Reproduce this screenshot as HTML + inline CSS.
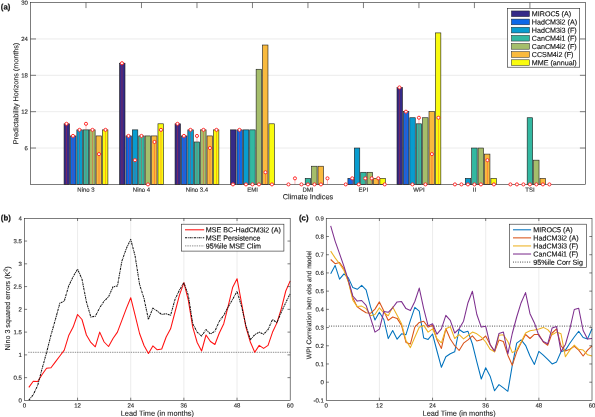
<!DOCTYPE html>
<html lang="en"><head><meta charset="utf-8"><title>Figure</title>
<style>html,body{margin:0;padding:0;background:#fff}svg{display:block}</style>
</head><body>
<svg width="595" height="417" viewBox="0 0 595 417" font-family='"Liberation Sans", Arial, sans-serif' text-rendering="geometricPrecision">
<rect width="595" height="417" fill="#fff"/>
<line x1="30.5" x2="585.4" y1="148.04" y2="148.04" stroke="#dfdfdf" stroke-width="0.6"/>
<line x1="30.5" x2="585.4" y1="111.68" y2="111.68" stroke="#dfdfdf" stroke-width="0.6"/>
<line x1="30.5" x2="585.4" y1="75.32" y2="75.32" stroke="#dfdfdf" stroke-width="0.6"/>
<line x1="30.5" x2="585.4" y1="38.96" y2="38.96" stroke="#dfdfdf" stroke-width="0.6"/>
<rect x="64.06" y="123.8" width="5.45" height="60.6" fill="#352a87" stroke="#1a1a1a" stroke-width="0.6"/>
<rect x="70.47" y="135.92" width="5.45" height="48.48" fill="#0c68e8" stroke="#1a1a1a" stroke-width="0.6"/>
<rect x="76.86" y="129.86" width="5.45" height="54.54" fill="#089ccf" stroke="#1a1a1a" stroke-width="0.6"/>
<rect x="83.27" y="129.86" width="5.45" height="54.54" fill="#33b8a1" stroke="#1a1a1a" stroke-width="0.6"/>
<rect x="89.67" y="129.86" width="5.45" height="54.54" fill="#a5be6b" stroke="#1a1a1a" stroke-width="0.6"/>
<rect x="96.06" y="135.92" width="5.45" height="48.48" fill="#f9ba3e" stroke="#1a1a1a" stroke-width="0.6"/>
<rect x="102.47" y="129.86" width="5.45" height="54.54" fill="#f9fb0e" stroke="#1a1a1a" stroke-width="0.6"/>
<rect x="119.55" y="63.2" width="5.45" height="121.2" fill="#352a87" stroke="#1a1a1a" stroke-width="0.6"/>
<rect x="125.95" y="135.92" width="5.45" height="48.48" fill="#0c68e8" stroke="#1a1a1a" stroke-width="0.6"/>
<rect x="132.35" y="129.86" width="5.45" height="54.54" fill="#089ccf" stroke="#1a1a1a" stroke-width="0.6"/>
<rect x="138.75" y="135.92" width="5.45" height="48.48" fill="#33b8a1" stroke="#1a1a1a" stroke-width="0.6"/>
<rect x="145.16" y="135.92" width="5.45" height="48.48" fill="#a5be6b" stroke="#1a1a1a" stroke-width="0.6"/>
<rect x="151.56" y="135.92" width="5.45" height="48.48" fill="#f9ba3e" stroke="#1a1a1a" stroke-width="0.6"/>
<rect x="157.96" y="123.8" width="5.45" height="60.6" fill="#f9fb0e" stroke="#1a1a1a" stroke-width="0.6"/>
<rect x="175.04" y="123.8" width="5.45" height="60.6" fill="#352a87" stroke="#1a1a1a" stroke-width="0.6"/>
<rect x="181.44" y="135.92" width="5.45" height="48.48" fill="#0c68e8" stroke="#1a1a1a" stroke-width="0.6"/>
<rect x="187.84" y="129.86" width="5.45" height="54.54" fill="#089ccf" stroke="#1a1a1a" stroke-width="0.6"/>
<rect x="194.24" y="141.98" width="5.45" height="42.42" fill="#33b8a1" stroke="#1a1a1a" stroke-width="0.6"/>
<rect x="200.64" y="129.86" width="5.45" height="54.54" fill="#a5be6b" stroke="#1a1a1a" stroke-width="0.6"/>
<rect x="207.04" y="135.92" width="5.45" height="48.48" fill="#f9ba3e" stroke="#1a1a1a" stroke-width="0.6"/>
<rect x="213.44" y="129.86" width="5.45" height="54.54" fill="#f9fb0e" stroke="#1a1a1a" stroke-width="0.6"/>
<rect x="230.53" y="129.86" width="5.45" height="54.54" fill="#352a87" stroke="#1a1a1a" stroke-width="0.6"/>
<rect x="236.93" y="129.86" width="5.45" height="54.54" fill="#0c68e8" stroke="#1a1a1a" stroke-width="0.6"/>
<rect x="243.33" y="129.86" width="5.45" height="54.54" fill="#089ccf" stroke="#1a1a1a" stroke-width="0.6"/>
<rect x="249.73" y="129.86" width="5.45" height="54.54" fill="#33b8a1" stroke="#1a1a1a" stroke-width="0.6"/>
<rect x="256.13" y="69.26" width="5.45" height="115.14" fill="#a5be6b" stroke="#1a1a1a" stroke-width="0.6"/>
<rect x="262.53" y="45.02" width="5.45" height="139.38" fill="#f9ba3e" stroke="#1a1a1a" stroke-width="0.6"/>
<rect x="268.93" y="123.8" width="5.45" height="60.6" fill="#f9fb0e" stroke="#1a1a1a" stroke-width="0.6"/>
<rect x="305.22" y="178.34" width="5.45" height="6.06" fill="#33b8a1" stroke="#1a1a1a" stroke-width="0.6"/>
<rect x="311.62" y="166.22" width="5.45" height="18.18" fill="#a5be6b" stroke="#1a1a1a" stroke-width="0.6"/>
<rect x="318.02" y="166.22" width="5.45" height="18.18" fill="#f9ba3e" stroke="#1a1a1a" stroke-width="0.6"/>
<rect x="347.91" y="178.34" width="5.45" height="6.06" fill="#0c68e8" stroke="#1a1a1a" stroke-width="0.6"/>
<rect x="354.31" y="148.04" width="5.45" height="36.36" fill="#089ccf" stroke="#1a1a1a" stroke-width="0.6"/>
<rect x="360.71" y="172.28" width="5.45" height="12.12" fill="#33b8a1" stroke="#1a1a1a" stroke-width="0.6"/>
<rect x="367.11" y="172.28" width="5.45" height="12.12" fill="#a5be6b" stroke="#1a1a1a" stroke-width="0.6"/>
<rect x="373.51" y="178.34" width="5.45" height="6.06" fill="#f9ba3e" stroke="#1a1a1a" stroke-width="0.6"/>
<rect x="379.91" y="178.34" width="5.45" height="6.06" fill="#f9fb0e" stroke="#1a1a1a" stroke-width="0.6"/>
<rect x="397" y="87.44" width="5.45" height="96.96" fill="#352a87" stroke="#1a1a1a" stroke-width="0.6"/>
<rect x="403.4" y="111.68" width="5.45" height="72.72" fill="#0c68e8" stroke="#1a1a1a" stroke-width="0.6"/>
<rect x="409.8" y="117.74" width="5.45" height="66.66" fill="#089ccf" stroke="#1a1a1a" stroke-width="0.6"/>
<rect x="416.2" y="123.8" width="5.45" height="60.6" fill="#33b8a1" stroke="#1a1a1a" stroke-width="0.6"/>
<rect x="422.6" y="117.74" width="5.45" height="66.66" fill="#a5be6b" stroke="#1a1a1a" stroke-width="0.6"/>
<rect x="429" y="111.68" width="5.45" height="72.72" fill="#f9ba3e" stroke="#1a1a1a" stroke-width="0.6"/>
<rect x="435.4" y="32.9" width="5.45" height="151.5" fill="#f9fb0e" stroke="#1a1a1a" stroke-width="0.6"/>
<rect x="465.29" y="178.34" width="5.45" height="6.06" fill="#089ccf" stroke="#1a1a1a" stroke-width="0.6"/>
<rect x="471.69" y="148.04" width="5.45" height="36.36" fill="#33b8a1" stroke="#1a1a1a" stroke-width="0.6"/>
<rect x="478.09" y="148.04" width="5.45" height="36.36" fill="#a5be6b" stroke="#1a1a1a" stroke-width="0.6"/>
<rect x="484.49" y="154.1" width="5.45" height="30.3" fill="#f9ba3e" stroke="#1a1a1a" stroke-width="0.6"/>
<rect x="490.89" y="178.34" width="5.45" height="6.06" fill="#f9fb0e" stroke="#1a1a1a" stroke-width="0.6"/>
<rect x="527.18" y="117.74" width="5.45" height="66.66" fill="#33b8a1" stroke="#1a1a1a" stroke-width="0.6"/>
<rect x="533.58" y="160.16" width="5.45" height="24.24" fill="#a5be6b" stroke="#1a1a1a" stroke-width="0.6"/>
<rect x="539.98" y="178.34" width="5.45" height="6.06" fill="#f9ba3e" stroke="#1a1a1a" stroke-width="0.6"/>
<rect x="30.5" y="2.6" width="554.9" height="181.8" fill="none" stroke="#262626" stroke-width="0.6"/>
<line x1="66.49" x2="66.49" y1="184.4" y2="123.8" stroke="#ff2020" stroke-width="0.32"/>
<circle cx="66.49" cy="123.8" r="1.55" fill="#fff" stroke="#ff2020" stroke-width="0.95"/>
<line x1="72.99" x2="72.99" y1="184.4" y2="135.92" stroke="#ff2020" stroke-width="0.32"/>
<circle cx="72.99" cy="135.92" r="1.55" fill="#fff" stroke="#ff2020" stroke-width="0.95"/>
<line x1="79.49" x2="79.49" y1="184.4" y2="129.86" stroke="#ff2020" stroke-width="0.32"/>
<circle cx="79.49" cy="129.86" r="1.55" fill="#fff" stroke="#ff2020" stroke-width="0.95"/>
<line x1="85.99" x2="85.99" y1="184.4" y2="123.8" stroke="#ff2020" stroke-width="0.32"/>
<circle cx="85.99" cy="123.8" r="1.55" fill="#fff" stroke="#ff2020" stroke-width="0.95"/>
<line x1="92.49" x2="92.49" y1="184.4" y2="129.86" stroke="#ff2020" stroke-width="0.32"/>
<circle cx="92.49" cy="129.86" r="1.55" fill="#fff" stroke="#ff2020" stroke-width="0.95"/>
<line x1="98.99" x2="98.99" y1="184.4" y2="154.1" stroke="#ff2020" stroke-width="0.32"/>
<circle cx="98.99" cy="154.1" r="1.55" fill="#fff" stroke="#ff2020" stroke-width="0.95"/>
<line x1="105.49" x2="105.49" y1="184.4" y2="129.86" stroke="#ff2020" stroke-width="0.32"/>
<circle cx="105.49" cy="129.86" r="1.55" fill="#fff" stroke="#ff2020" stroke-width="0.95"/>
<line x1="121.98" x2="121.98" y1="184.4" y2="63.2" stroke="#ff2020" stroke-width="0.32"/>
<circle cx="121.98" cy="63.2" r="1.55" fill="#fff" stroke="#ff2020" stroke-width="0.95"/>
<line x1="128.48" x2="128.48" y1="184.4" y2="135.92" stroke="#ff2020" stroke-width="0.32"/>
<circle cx="128.48" cy="135.92" r="1.55" fill="#fff" stroke="#ff2020" stroke-width="0.95"/>
<line x1="134.98" x2="134.98" y1="184.4" y2="160.16" stroke="#ff2020" stroke-width="0.32"/>
<circle cx="134.98" cy="160.16" r="1.55" fill="#fff" stroke="#ff2020" stroke-width="0.95"/>
<line x1="141.48" x2="141.48" y1="184.4" y2="135.92" stroke="#ff2020" stroke-width="0.32"/>
<circle cx="141.48" cy="135.92" r="1.55" fill="#fff" stroke="#ff2020" stroke-width="0.95"/>
<circle cx="147.98" cy="184.4" r="1.55" fill="#fff" stroke="#ff2020" stroke-width="0.95"/>
<line x1="154.48" x2="154.48" y1="184.4" y2="141.98" stroke="#ff2020" stroke-width="0.32"/>
<circle cx="154.48" cy="141.98" r="1.55" fill="#fff" stroke="#ff2020" stroke-width="0.95"/>
<line x1="160.98" x2="160.98" y1="184.4" y2="129.86" stroke="#ff2020" stroke-width="0.32"/>
<circle cx="160.98" cy="129.86" r="1.55" fill="#fff" stroke="#ff2020" stroke-width="0.95"/>
<line x1="177.47" x2="177.47" y1="184.4" y2="123.8" stroke="#ff2020" stroke-width="0.32"/>
<circle cx="177.47" cy="123.8" r="1.55" fill="#fff" stroke="#ff2020" stroke-width="0.95"/>
<line x1="183.97" x2="183.97" y1="184.4" y2="135.92" stroke="#ff2020" stroke-width="0.32"/>
<circle cx="183.97" cy="135.92" r="1.55" fill="#fff" stroke="#ff2020" stroke-width="0.95"/>
<line x1="190.47" x2="190.47" y1="184.4" y2="129.86" stroke="#ff2020" stroke-width="0.32"/>
<circle cx="190.47" cy="129.86" r="1.55" fill="#fff" stroke="#ff2020" stroke-width="0.95"/>
<line x1="196.97" x2="196.97" y1="184.4" y2="135.92" stroke="#ff2020" stroke-width="0.32"/>
<circle cx="196.97" cy="135.92" r="1.55" fill="#fff" stroke="#ff2020" stroke-width="0.95"/>
<line x1="203.47" x2="203.47" y1="184.4" y2="129.86" stroke="#ff2020" stroke-width="0.32"/>
<circle cx="203.47" cy="129.86" r="1.55" fill="#fff" stroke="#ff2020" stroke-width="0.95"/>
<line x1="209.97" x2="209.97" y1="184.4" y2="148.04" stroke="#ff2020" stroke-width="0.32"/>
<circle cx="209.97" cy="148.04" r="1.55" fill="#fff" stroke="#ff2020" stroke-width="0.95"/>
<line x1="216.47" x2="216.47" y1="184.4" y2="129.86" stroke="#ff2020" stroke-width="0.32"/>
<circle cx="216.47" cy="129.86" r="1.55" fill="#fff" stroke="#ff2020" stroke-width="0.95"/>
<circle cx="232.96" cy="184.4" r="1.55" fill="#fff" stroke="#ff2020" stroke-width="0.95"/>
<line x1="239.46" x2="239.46" y1="184.4" y2="129.86" stroke="#ff2020" stroke-width="0.32"/>
<circle cx="239.46" cy="129.86" r="1.55" fill="#fff" stroke="#ff2020" stroke-width="0.95"/>
<circle cx="245.96" cy="184.4" r="1.55" fill="#fff" stroke="#ff2020" stroke-width="0.95"/>
<circle cx="252.46" cy="184.4" r="1.55" fill="#fff" stroke="#ff2020" stroke-width="0.95"/>
<circle cx="258.96" cy="184.4" r="1.55" fill="#fff" stroke="#ff2020" stroke-width="0.95"/>
<line x1="265.46" x2="265.46" y1="184.4" y2="172.28" stroke="#ff2020" stroke-width="0.32"/>
<circle cx="265.46" cy="172.28" r="1.55" fill="#fff" stroke="#ff2020" stroke-width="0.95"/>
<circle cx="271.96" cy="184.4" r="1.55" fill="#fff" stroke="#ff2020" stroke-width="0.95"/>
<circle cx="288.45" cy="184.4" r="1.55" fill="#fff" stroke="#ff2020" stroke-width="0.95"/>
<line x1="294.95" x2="294.95" y1="184.4" y2="178.34" stroke="#ff2020" stroke-width="0.32"/>
<circle cx="294.95" cy="178.34" r="1.55" fill="#fff" stroke="#ff2020" stroke-width="0.95"/>
<circle cx="301.45" cy="184.4" r="1.55" fill="#fff" stroke="#ff2020" stroke-width="0.95"/>
<circle cx="307.95" cy="184.4" r="1.55" fill="#fff" stroke="#ff2020" stroke-width="0.95"/>
<circle cx="314.45" cy="184.4" r="1.55" fill="#fff" stroke="#ff2020" stroke-width="0.95"/>
<circle cx="320.95" cy="184.4" r="1.55" fill="#fff" stroke="#ff2020" stroke-width="0.95"/>
<line x1="327.45" x2="327.45" y1="184.4" y2="178.34" stroke="#ff2020" stroke-width="0.32"/>
<circle cx="327.45" cy="178.34" r="1.55" fill="#fff" stroke="#ff2020" stroke-width="0.95"/>
<circle cx="345.74" cy="184.4" r="1.55" fill="#fff" stroke="#ff2020" stroke-width="0.95"/>
<line x1="352.24" x2="352.24" y1="184.4" y2="178.34" stroke="#ff2020" stroke-width="0.32"/>
<circle cx="352.24" cy="178.34" r="1.55" fill="#fff" stroke="#ff2020" stroke-width="0.95"/>
<circle cx="358.74" cy="184.4" r="1.55" fill="#fff" stroke="#ff2020" stroke-width="0.95"/>
<line x1="365.24" x2="365.24" y1="184.4" y2="178.34" stroke="#ff2020" stroke-width="0.32"/>
<circle cx="365.24" cy="178.34" r="1.55" fill="#fff" stroke="#ff2020" stroke-width="0.95"/>
<line x1="371.74" x2="371.74" y1="184.4" y2="178.34" stroke="#ff2020" stroke-width="0.32"/>
<circle cx="371.74" cy="178.34" r="1.55" fill="#fff" stroke="#ff2020" stroke-width="0.95"/>
<line x1="378.24" x2="378.24" y1="184.4" y2="178.34" stroke="#ff2020" stroke-width="0.32"/>
<circle cx="378.24" cy="178.34" r="1.55" fill="#fff" stroke="#ff2020" stroke-width="0.95"/>
<circle cx="384.74" cy="184.4" r="1.55" fill="#fff" stroke="#ff2020" stroke-width="0.95"/>
<line x1="399.43" x2="399.43" y1="184.4" y2="87.44" stroke="#ff2020" stroke-width="0.32"/>
<circle cx="399.43" cy="87.44" r="1.55" fill="#fff" stroke="#ff2020" stroke-width="0.95"/>
<line x1="405.93" x2="405.93" y1="184.4" y2="111.68" stroke="#ff2020" stroke-width="0.32"/>
<circle cx="405.93" cy="111.68" r="1.55" fill="#fff" stroke="#ff2020" stroke-width="0.95"/>
<circle cx="412.43" cy="184.4" r="1.55" fill="#fff" stroke="#ff2020" stroke-width="0.95"/>
<line x1="418.93" x2="418.93" y1="184.4" y2="117.74" stroke="#ff2020" stroke-width="0.32"/>
<circle cx="418.93" cy="117.74" r="1.55" fill="#fff" stroke="#ff2020" stroke-width="0.95"/>
<circle cx="425.43" cy="184.4" r="1.55" fill="#fff" stroke="#ff2020" stroke-width="0.95"/>
<line x1="431.93" x2="431.93" y1="184.4" y2="154.1" stroke="#ff2020" stroke-width="0.32"/>
<circle cx="431.93" cy="154.1" r="1.55" fill="#fff" stroke="#ff2020" stroke-width="0.95"/>
<line x1="438.43" x2="438.43" y1="184.4" y2="117.74" stroke="#ff2020" stroke-width="0.32"/>
<circle cx="438.43" cy="117.74" r="1.55" fill="#fff" stroke="#ff2020" stroke-width="0.95"/>
<circle cx="454.92" cy="184.4" r="1.55" fill="#fff" stroke="#ff2020" stroke-width="0.95"/>
<circle cx="461.42" cy="184.4" r="1.55" fill="#fff" stroke="#ff2020" stroke-width="0.95"/>
<circle cx="467.92" cy="184.4" r="1.55" fill="#fff" stroke="#ff2020" stroke-width="0.95"/>
<circle cx="474.42" cy="184.4" r="1.55" fill="#fff" stroke="#ff2020" stroke-width="0.95"/>
<circle cx="480.92" cy="184.4" r="1.55" fill="#fff" stroke="#ff2020" stroke-width="0.95"/>
<line x1="487.42" x2="487.42" y1="184.4" y2="160.16" stroke="#ff2020" stroke-width="0.32"/>
<circle cx="487.42" cy="160.16" r="1.55" fill="#fff" stroke="#ff2020" stroke-width="0.95"/>
<circle cx="493.92" cy="184.4" r="1.55" fill="#fff" stroke="#ff2020" stroke-width="0.95"/>
<circle cx="510.41" cy="184.4" r="1.55" fill="#fff" stroke="#ff2020" stroke-width="0.95"/>
<circle cx="516.91" cy="184.4" r="1.55" fill="#fff" stroke="#ff2020" stroke-width="0.95"/>
<circle cx="523.41" cy="184.4" r="1.55" fill="#fff" stroke="#ff2020" stroke-width="0.95"/>
<circle cx="529.91" cy="184.4" r="1.55" fill="#fff" stroke="#ff2020" stroke-width="0.95"/>
<circle cx="536.41" cy="184.4" r="1.55" fill="#fff" stroke="#ff2020" stroke-width="0.95"/>
<circle cx="542.91" cy="184.4" r="1.55" fill="#fff" stroke="#ff2020" stroke-width="0.95"/>
<circle cx="549.41" cy="184.4" r="1.55" fill="#fff" stroke="#ff2020" stroke-width="0.95"/>
<line x1="30.5" x2="36" y1="148.04" y2="148.04" stroke="#262626" stroke-width="0.6"/>
<line x1="585.4" x2="579.9" y1="148.04" y2="148.04" stroke="#262626" stroke-width="0.6"/>
<line x1="30.5" x2="36" y1="111.68" y2="111.68" stroke="#262626" stroke-width="0.6"/>
<line x1="585.4" x2="579.9" y1="111.68" y2="111.68" stroke="#262626" stroke-width="0.6"/>
<line x1="30.5" x2="36" y1="75.32" y2="75.32" stroke="#262626" stroke-width="0.6"/>
<line x1="585.4" x2="579.9" y1="75.32" y2="75.32" stroke="#262626" stroke-width="0.6"/>
<line x1="30.5" x2="36" y1="38.96" y2="38.96" stroke="#262626" stroke-width="0.6"/>
<line x1="585.4" x2="579.9" y1="38.96" y2="38.96" stroke="#262626" stroke-width="0.6"/>
<line x1="85.99" x2="85.99" y1="2.6" y2="8.1" stroke="#262626" stroke-width="0.6"/>
<line x1="141.48" x2="141.48" y1="2.6" y2="8.1" stroke="#262626" stroke-width="0.6"/>
<line x1="196.97" x2="196.97" y1="2.6" y2="8.1" stroke="#262626" stroke-width="0.6"/>
<line x1="252.46" x2="252.46" y1="2.6" y2="8.1" stroke="#262626" stroke-width="0.6"/>
<line x1="307.95" x2="307.95" y1="2.6" y2="8.1" stroke="#262626" stroke-width="0.6"/>
<line x1="363.44" x2="363.44" y1="2.6" y2="8.1" stroke="#262626" stroke-width="0.6"/>
<line x1="418.93" x2="418.93" y1="2.6" y2="8.1" stroke="#262626" stroke-width="0.6"/>
<line x1="474.42" x2="474.42" y1="2.6" y2="8.1" stroke="#262626" stroke-width="0.6"/>
<line x1="529.91" x2="529.91" y1="2.6" y2="8.1" stroke="#262626" stroke-width="0.6"/>
<text transform="translate(27.9,150.19) rotate(0.03)" font-size="6.0" text-anchor="end" fill="#262626" stroke="#262626" stroke-width="0.12">6</text>
<text transform="translate(27.9,113.83) rotate(0.03)" font-size="6.0" text-anchor="end" fill="#262626" stroke="#262626" stroke-width="0.12">12</text>
<text transform="translate(27.9,77.47) rotate(0.03)" font-size="6.0" text-anchor="end" fill="#262626" stroke="#262626" stroke-width="0.12">18</text>
<text transform="translate(27.9,41.11) rotate(0.03)" font-size="6.0" text-anchor="end" fill="#262626" stroke="#262626" stroke-width="0.12">24</text>
<text transform="translate(27.9,4.75) rotate(0.03)" font-size="6.0" text-anchor="end" fill="#262626" stroke="#262626" stroke-width="0.12">30</text>
<text transform="translate(85.99,191.7) rotate(0.03)" font-size="6.0" text-anchor="middle" fill="#262626" stroke="#262626" stroke-width="0.12">Nino 3</text>
<text transform="translate(141.48,191.7) rotate(0.03)" font-size="6.0" text-anchor="middle" fill="#262626" stroke="#262626" stroke-width="0.12">Nino 4</text>
<text transform="translate(196.97,191.7) rotate(0.03)" font-size="6.0" text-anchor="middle" fill="#262626" stroke="#262626" stroke-width="0.12">Nino 3.4</text>
<text transform="translate(252.46,191.7) rotate(0.03)" font-size="6.0" text-anchor="middle" fill="#262626" stroke="#262626" stroke-width="0.12">EMI</text>
<text transform="translate(307.95,191.7) rotate(0.03)" font-size="6.0" text-anchor="middle" fill="#262626" stroke="#262626" stroke-width="0.12">DMI</text>
<text transform="translate(363.44,191.7) rotate(0.03)" font-size="6.0" text-anchor="middle" fill="#262626" stroke="#262626" stroke-width="0.12">EPI</text>
<text transform="translate(418.93,191.7) rotate(0.03)" font-size="6.0" text-anchor="middle" fill="#262626" stroke="#262626" stroke-width="0.12">WPI</text>
<text transform="translate(474.42,191.7) rotate(0.03)" font-size="6.0" text-anchor="middle" fill="#262626" stroke="#262626" stroke-width="0.12">II</text>
<text transform="translate(529.91,191.7) rotate(0.03)" font-size="6.0" text-anchor="middle" fill="#262626" stroke="#262626" stroke-width="0.12">TSI</text>
<text transform="translate(307.95,199.3) rotate(0.03)" font-size="7.4" text-anchor="middle" fill="#262626" stroke="#262626" stroke-width="0.12">Climate Indices</text>
<text transform="translate(18.2,93.5) rotate(-89.97)" font-size="7.2" text-anchor="middle" fill="#262626" stroke="#262626" stroke-width="0.12">Predictability Horizons (months)</text>
<text transform="translate(0.8,9.4) rotate(0.03)" font-size="7.8" font-weight="bold" fill="#111" stroke="#111" stroke-width="0.2">(a)</text>
<rect x="507.6" y="8.3" width="72.1" height="58.9" fill="#fff" stroke="#262626" stroke-width="0.6"/>
<rect x="511.4" y="10.95" width="18.1" height="5.7" fill="#352a87" stroke="#222" stroke-width="0.5"/>
<text transform="translate(531.8,16.35) rotate(0.03)" font-size="7.15" fill="#111" stroke="#111" stroke-width="0.14">MIROC5 (A)</text>
<rect x="511.4" y="19.09" width="18.1" height="5.7" fill="#0c68e8" stroke="#222" stroke-width="0.5"/>
<text transform="translate(531.8,24.49) rotate(0.03)" font-size="7.15" fill="#111" stroke="#111" stroke-width="0.14">HadCM3i2 (A)</text>
<rect x="511.4" y="27.23" width="18.1" height="5.7" fill="#089ccf" stroke="#222" stroke-width="0.5"/>
<text transform="translate(531.8,32.63) rotate(0.03)" font-size="7.15" fill="#111" stroke="#111" stroke-width="0.14">HadCM3i3 (F)</text>
<rect x="511.4" y="35.37" width="18.1" height="5.7" fill="#33b8a1" stroke="#222" stroke-width="0.5"/>
<text transform="translate(531.8,40.77) rotate(0.03)" font-size="7.15" fill="#111" stroke="#111" stroke-width="0.14">CanCM4i1 (F)</text>
<rect x="511.4" y="43.51" width="18.1" height="5.7" fill="#a5be6b" stroke="#222" stroke-width="0.5"/>
<text transform="translate(531.8,48.91) rotate(0.03)" font-size="7.15" fill="#111" stroke="#111" stroke-width="0.14">CanCM4i2 (F)</text>
<rect x="511.4" y="51.65" width="18.1" height="5.7" fill="#f9ba3e" stroke="#222" stroke-width="0.5"/>
<text transform="translate(531.8,57.05) rotate(0.03)" font-size="7.15" fill="#111" stroke="#111" stroke-width="0.14">CCSM4i2 (F)</text>
<rect x="511.4" y="59.79" width="18.1" height="5.7" fill="#f9fb0e" stroke="#222" stroke-width="0.5"/>
<text transform="translate(531.8,65.19) rotate(0.03)" font-size="7.15" fill="#111" stroke="#111" stroke-width="0.14">MME (annual)</text>
<line x1="77.56" x2="77.56" y1="218.3" y2="400.4" stroke="#dfdfdf" stroke-width="0.6"/>
<line x1="130.72" x2="130.72" y1="218.3" y2="400.4" stroke="#dfdfdf" stroke-width="0.6"/>
<line x1="183.88" x2="183.88" y1="218.3" y2="400.4" stroke="#dfdfdf" stroke-width="0.6"/>
<line x1="237.04" x2="237.04" y1="218.3" y2="400.4" stroke="#dfdfdf" stroke-width="0.6"/>
<line x1="28.2" x2="290.2" y1="352.3" y2="352.3" stroke="#444" stroke-width="0.6" stroke-dasharray="1.4 0.93"/>
<polyline points="28.83,387.4 33.26,381.2 37.69,381.5 42.12,374.5 46.55,368.3 50.98,367.8 55.41,361.9 59.84,356 64.27,350.1 68.7,335.6 73.13,327.1 77.56,314.5 81.99,319.5 86.42,335 90.85,342.4 95.28,346.8 99.71,332.1 104.14,342 108.57,346.5 113,338.5 117.43,332.1 121.86,320.4 126.29,308.6 130.72,297.7 135.15,315.3 139.58,333.5 144.01,345.5 148.44,353.5 152.87,345.9 157.3,349.8 161.73,349 166.16,337 170.59,328.8 175.02,312 179.45,295.2 183.88,282.6 188.31,300.2 192.74,327.1 197.17,342.5 201.6,351 206.03,335 210.46,341.5 214.89,344.5 219.32,333 223.75,323.7 228.18,306.1 232.61,287.6 237.04,278.7 241.47,302.7 245.9,327.1 250.33,342 254.76,352.3 259.19,345.4 263.62,348.4 268.05,345.4 272.48,332.3 276.91,322.9 281.34,308.6 285.77,291 290.2,280.9" fill="none" stroke="#ff1010" stroke-width="1.05" stroke-linejoin="round" />
<polyline points="28.83,400.2 33.26,394.7 37.69,385.4 42.12,368.6 46.55,352.6 50.98,335 55.41,319.5 59.84,303.2 64.27,301.1 68.7,285.9 73.13,276.7 77.56,269.1 81.99,279.2 86.42,301.9 90.85,317 95.28,316.2 99.71,307.8 104.14,301.1 108.57,296.8 113,286.8 117.43,286 121.86,261.2 126.29,248.6 130.72,239.4 135.15,256.2 139.58,284.5 144.01,298.5 148.44,319.5 152.87,308.1 157.3,311.1 161.73,314.5 166.16,313.7 170.59,315.3 175.02,299.4 179.45,290.1 183.88,282.6 188.31,295.2 192.74,323.7 197.17,332.1 201.6,336 206.03,329.5 210.46,334 214.89,331.3 219.32,321.2 223.75,315.3 228.18,306.9 232.61,299.4 237.04,291.3 241.47,306.1 245.9,325.4 250.33,339.7 254.76,334.7 259.19,332.1 263.62,334.2 268.05,329.6 272.48,319.5 276.91,322.6 281.34,312 285.77,302.7 290.2,293.5" fill="none" stroke="#111" stroke-width="1.05" stroke-linejoin="round" stroke-dasharray="2.1 0.75 0.9 0.75"/>
<rect x="24.4" y="218.3" width="265.8" height="182.1" fill="none" stroke="#262626" stroke-width="0.6"/>
<line x1="77.56" x2="77.56" y1="400.4" y2="397.7" stroke="#262626" stroke-width="0.6"/>
<line x1="77.56" x2="77.56" y1="218.3" y2="221" stroke="#262626" stroke-width="0.6"/>
<line x1="130.72" x2="130.72" y1="400.4" y2="397.7" stroke="#262626" stroke-width="0.6"/>
<line x1="130.72" x2="130.72" y1="218.3" y2="221" stroke="#262626" stroke-width="0.6"/>
<line x1="183.88" x2="183.88" y1="400.4" y2="397.7" stroke="#262626" stroke-width="0.6"/>
<line x1="183.88" x2="183.88" y1="218.3" y2="221" stroke="#262626" stroke-width="0.6"/>
<line x1="237.04" x2="237.04" y1="400.4" y2="397.7" stroke="#262626" stroke-width="0.6"/>
<line x1="237.04" x2="237.04" y1="218.3" y2="221" stroke="#262626" stroke-width="0.6"/>
<text transform="translate(24.4,407.4) rotate(0.03)" font-size="6.0" text-anchor="middle" fill="#262626" stroke="#262626" stroke-width="0.12">0</text>
<text transform="translate(77.56,407.4) rotate(0.03)" font-size="6.0" text-anchor="middle" fill="#262626" stroke="#262626" stroke-width="0.12">12</text>
<text transform="translate(130.72,407.4) rotate(0.03)" font-size="6.0" text-anchor="middle" fill="#262626" stroke="#262626" stroke-width="0.12">24</text>
<text transform="translate(183.88,407.4) rotate(0.03)" font-size="6.0" text-anchor="middle" fill="#262626" stroke="#262626" stroke-width="0.12">36</text>
<text transform="translate(237.04,407.4) rotate(0.03)" font-size="6.0" text-anchor="middle" fill="#262626" stroke="#262626" stroke-width="0.12">48</text>
<text transform="translate(290.2,407.4) rotate(0.03)" font-size="6.0" text-anchor="middle" fill="#262626" stroke="#262626" stroke-width="0.12">60</text>
<text transform="translate(21.9,402.55) rotate(0.03)" font-size="6.0" text-anchor="end" fill="#262626" stroke="#262626" stroke-width="0.12">0</text>
<line x1="24.4" x2="27.1" y1="377.64" y2="377.64" stroke="#262626" stroke-width="0.6"/>
<line x1="290.2" x2="287.5" y1="377.64" y2="377.64" stroke="#262626" stroke-width="0.6"/>
<text transform="translate(21.9,379.79) rotate(0.03)" font-size="6.0" text-anchor="end" fill="#262626" stroke="#262626" stroke-width="0.12">0.5</text>
<line x1="24.4" x2="27.1" y1="354.88" y2="354.88" stroke="#262626" stroke-width="0.6"/>
<line x1="290.2" x2="287.5" y1="354.88" y2="354.88" stroke="#262626" stroke-width="0.6"/>
<text transform="translate(21.9,357.02) rotate(0.03)" font-size="6.0" text-anchor="end" fill="#262626" stroke="#262626" stroke-width="0.12">1</text>
<line x1="24.4" x2="27.1" y1="332.11" y2="332.11" stroke="#262626" stroke-width="0.6"/>
<line x1="290.2" x2="287.5" y1="332.11" y2="332.11" stroke="#262626" stroke-width="0.6"/>
<text transform="translate(21.9,334.26) rotate(0.03)" font-size="6.0" text-anchor="end" fill="#262626" stroke="#262626" stroke-width="0.12">1.5</text>
<line x1="24.4" x2="27.1" y1="309.35" y2="309.35" stroke="#262626" stroke-width="0.6"/>
<line x1="290.2" x2="287.5" y1="309.35" y2="309.35" stroke="#262626" stroke-width="0.6"/>
<text transform="translate(21.9,311.5) rotate(0.03)" font-size="6.0" text-anchor="end" fill="#262626" stroke="#262626" stroke-width="0.12">2</text>
<line x1="24.4" x2="27.1" y1="286.59" y2="286.59" stroke="#262626" stroke-width="0.6"/>
<line x1="290.2" x2="287.5" y1="286.59" y2="286.59" stroke="#262626" stroke-width="0.6"/>
<text transform="translate(21.9,288.74) rotate(0.03)" font-size="6.0" text-anchor="end" fill="#262626" stroke="#262626" stroke-width="0.12">2.5</text>
<line x1="24.4" x2="27.1" y1="263.82" y2="263.82" stroke="#262626" stroke-width="0.6"/>
<line x1="290.2" x2="287.5" y1="263.82" y2="263.82" stroke="#262626" stroke-width="0.6"/>
<text transform="translate(21.9,265.97) rotate(0.03)" font-size="6.0" text-anchor="end" fill="#262626" stroke="#262626" stroke-width="0.12">3</text>
<line x1="24.4" x2="27.1" y1="241.06" y2="241.06" stroke="#262626" stroke-width="0.6"/>
<line x1="290.2" x2="287.5" y1="241.06" y2="241.06" stroke="#262626" stroke-width="0.6"/>
<text transform="translate(21.9,243.21) rotate(0.03)" font-size="6.0" text-anchor="end" fill="#262626" stroke="#262626" stroke-width="0.12">3.5</text>
<text transform="translate(21.9,220.45) rotate(0.03)" font-size="6.0" text-anchor="end" fill="#262626" stroke="#262626" stroke-width="0.12">4</text>
<text transform="translate(157.3,415.7) rotate(0.03)" font-size="7.35" text-anchor="middle" fill="#262626" stroke="#262626" stroke-width="0.12">Lead Time (in months)</text>
<text transform="translate(9.9,308.4) rotate(-89.97)" font-size="7.2" text-anchor="middle" fill="#262626" stroke="#262626" stroke-width="0.12">Nino 3 squared errors (K<tspan font-size="5.2" dy="-2.6">2</tspan><tspan dy="2.6">)</tspan></text>
<text transform="translate(0.8,220.6) rotate(0.03)" font-size="7.8" font-weight="bold" fill="#111" stroke="#111" stroke-width="0.2">(b)</text>
<rect x="181.4" y="224.2" width="102.5" height="26.9" fill="#fff" stroke="#262626" stroke-width="0.6"/>
<line x1="185" x2="204.2" y1="229.8" y2="229.8" stroke="#ff1010" stroke-width="1.05"/>
<line x1="185" x2="204.2" y1="237.8" y2="237.8" stroke="#111" stroke-width="1.05" stroke-dasharray="2.1 0.75 0.9 0.75"/>
<line x1="185" x2="204.2" y1="245.9" y2="245.9" stroke="#444" stroke-width="0.6" stroke-dasharray="1.4 0.93"/>
<text transform="translate(205.8,232.35) rotate(0.03)" font-size="7.15" fill="#111" stroke="#111" stroke-width="0.14">MSE BC-HadCM3i2 (A)</text>
<text transform="translate(205.8,240.4) rotate(0.03)" font-size="7.15" fill="#111" stroke="#111" stroke-width="0.14">MSE Persistence</text>
<text transform="translate(205.8,248.45) rotate(0.03)" font-size="7.15" fill="#111" stroke="#111" stroke-width="0.14">95%ile MSE Clim</text>
<line x1="379.4" x2="379.4" y1="218.3" y2="400.4" stroke="#dfdfdf" stroke-width="0.6"/>
<line x1="432.55" x2="432.55" y1="218.3" y2="400.4" stroke="#dfdfdf" stroke-width="0.6"/>
<line x1="485.7" x2="485.7" y1="218.3" y2="400.4" stroke="#dfdfdf" stroke-width="0.6"/>
<line x1="538.85" x2="538.85" y1="218.3" y2="400.4" stroke="#dfdfdf" stroke-width="0.6"/>
<line x1="328.85" x2="592" y1="326.1" y2="326.1" stroke="#222" stroke-width="0.9" stroke-dasharray="0.9 1.43"/>
<polyline points="330.68,273.8 335.11,265.4 339.54,279.2 343.97,273.8 348.4,277.9 352.82,287.6 357.25,289.3 361.68,285.4 366.11,289.8 370.54,306.9 374.97,320 379.4,312.3 383.83,319.5 388.26,338.6 392.69,330.5 397.12,339.2 401.55,333.8 405.98,334.7 410.4,320.4 414.83,307.3 419.26,311.1 423.69,338 428.12,339.4 432.55,334 436.98,351 441.41,367.3 445.84,356.8 450.27,353.8 454.7,351.8 459.12,329.5 463.55,332.5 467.98,331.3 472.41,344 476.84,361.9 481.27,379 485.7,367.8 490.13,376.2 494.56,390.8 498.99,384.6 503.42,387.9 507.85,391.3 512.27,365.3 516.7,343.2 521.13,339.8 525.56,345.3 529.99,356 534.42,364.4 538.85,351.3 543.28,355.2 547.71,359.4 552.14,363.9 556.57,361.9 561,351.8 565.42,350.1 569.85,343.2 574.28,337 578.71,331.3 583.14,337.5 587.57,338.9 592,328.8" fill="none" stroke="#0072bd" stroke-width="1.05" stroke-linejoin="round" />
<polyline points="330.68,259.5 335.11,263.7 339.54,262.6 343.97,268.8 348.4,281.5 352.82,297.7 357.25,306.9 361.68,310 366.11,312.8 370.54,313.3 374.97,309.1 379.4,301.9 383.83,311.1 388.26,320.4 392.69,317 397.12,318.4 401.55,325.4 405.98,342.4 410.4,344 414.83,327.1 419.26,322.4 423.69,321.2 428.12,327.1 432.55,325.4 436.98,339.8 441.41,348.4 445.84,328.8 450.27,339 454.7,345.7 459.12,350.5 463.55,343.2 467.98,339.8 472.41,335.8 476.84,341 481.27,339.8 485.7,336 490.13,344.5 494.56,351.8 498.99,340.1 503.42,341.5 507.85,355.2 512.27,365.3 516.7,351.8 521.13,342.8 525.56,334.5 529.99,338.5 534.42,334.4 538.85,334.5 543.28,342 547.71,345.3 552.14,333 556.57,328.8 561,345.8 565.42,351 569.85,349.3 574.28,346.4 578.71,350.1 583.14,356 587.57,350.1 592,345.9" fill="none" stroke="#d95319" stroke-width="1.05" stroke-linejoin="round" />
<polyline points="330.68,251.1 335.11,257.9 339.54,263.7 343.97,270.5 348.4,282 352.82,300.2 357.25,306.6 361.68,306.1 366.11,308.6 370.54,315.8 374.97,314.5 379.4,307.8 383.83,312.8 388.26,315.8 392.69,306.9 397.12,315.3 401.55,323.7 405.98,340.5 410.4,347.6 414.83,337.2 419.26,327.3 423.69,325.4 428.12,332.1 432.55,328.8 436.98,338.7 441.41,342.8 445.84,328.8 450.27,326.8 454.7,338.5 459.12,334.7 463.55,338.9 467.98,335.5 472.41,332.1 476.84,333.8 481.27,337.2 485.7,342 490.13,349.3 494.56,351.8 498.99,335.3 503.42,334.7 507.85,341.5 512.27,352.6 516.7,350.1 521.13,342 525.56,333 529.99,330.8 534.42,330.1 538.85,329.1 543.28,327.4 547.71,329.6 552.14,334.7 556.57,332.1 561,333.8 565.42,356.8 569.85,350.1 574.28,345.1 578.71,349.3 583.14,350.1 587.57,354.8 592,356" fill="none" stroke="#edb120" stroke-width="1.05" stroke-linejoin="round" />
<polyline points="330.68,225.9 335.11,241.1 339.54,253.7 343.97,266.3 348.4,280.3 352.82,296 357.25,301.1 361.68,300.5 366.11,305.3 370.54,317.9 374.97,332.1 379.4,329.1 383.83,311.6 388.26,312.3 392.69,307.8 397.12,301.9 401.55,301.6 405.98,308.6 410.4,310.6 414.83,301.5 419.26,288.1 423.69,308.6 428.12,325.9 432.55,323.7 436.98,334.2 441.41,328.8 445.84,315.3 450.27,320.4 454.7,333 459.12,328.8 463.55,321.2 467.98,302.7 472.41,291.3 476.84,314.5 481.27,327.1 485.7,326.3 490.13,344.7 494.56,351 498.99,333.4 503.42,332.1 507.85,353.8 512.27,333.5 516.7,317 521.13,302.7 525.56,292.6 529.99,313.7 534.42,322.9 538.85,335.6 543.28,341.5 547.71,343.8 552.14,327.9 556.57,326.6 561,351.6 565.42,344.5 569.85,328.8 574.28,309.5 578.71,308.3 583.14,330.5 587.57,338.9 592,338.5" fill="none" stroke="#7e2f8e" stroke-width="1.05" stroke-linejoin="round" />
<rect x="326.25" y="218.3" width="265.75" height="182.1" fill="none" stroke="#262626" stroke-width="0.6"/>
<line x1="379.4" x2="379.4" y1="400.4" y2="397.7" stroke="#262626" stroke-width="0.6"/>
<line x1="379.4" x2="379.4" y1="218.3" y2="221" stroke="#262626" stroke-width="0.6"/>
<line x1="432.55" x2="432.55" y1="400.4" y2="397.7" stroke="#262626" stroke-width="0.6"/>
<line x1="432.55" x2="432.55" y1="218.3" y2="221" stroke="#262626" stroke-width="0.6"/>
<line x1="485.7" x2="485.7" y1="400.4" y2="397.7" stroke="#262626" stroke-width="0.6"/>
<line x1="485.7" x2="485.7" y1="218.3" y2="221" stroke="#262626" stroke-width="0.6"/>
<line x1="538.85" x2="538.85" y1="400.4" y2="397.7" stroke="#262626" stroke-width="0.6"/>
<line x1="538.85" x2="538.85" y1="218.3" y2="221" stroke="#262626" stroke-width="0.6"/>
<text transform="translate(326.25,407.4) rotate(0.03)" font-size="6.0" text-anchor="middle" fill="#262626" stroke="#262626" stroke-width="0.12">0</text>
<text transform="translate(379.4,407.4) rotate(0.03)" font-size="6.0" text-anchor="middle" fill="#262626" stroke="#262626" stroke-width="0.12">12</text>
<text transform="translate(432.55,407.4) rotate(0.03)" font-size="6.0" text-anchor="middle" fill="#262626" stroke="#262626" stroke-width="0.12">24</text>
<text transform="translate(485.7,407.4) rotate(0.03)" font-size="6.0" text-anchor="middle" fill="#262626" stroke="#262626" stroke-width="0.12">36</text>
<text transform="translate(538.85,407.4) rotate(0.03)" font-size="6.0" text-anchor="middle" fill="#262626" stroke="#262626" stroke-width="0.12">48</text>
<text transform="translate(592,407.4) rotate(0.03)" font-size="6.0" text-anchor="middle" fill="#262626" stroke="#262626" stroke-width="0.12">60</text>
<text transform="translate(323.75,402.55) rotate(0.03)" font-size="6.0" text-anchor="end" fill="#262626" stroke="#262626" stroke-width="0.12">-0.1</text>
<line x1="326.25" x2="328.95" y1="382.19" y2="382.19" stroke="#262626" stroke-width="0.6"/>
<line x1="592" x2="589.3" y1="382.19" y2="382.19" stroke="#262626" stroke-width="0.6"/>
<text transform="translate(323.75,384.34) rotate(0.03)" font-size="6.0" text-anchor="end" fill="#262626" stroke="#262626" stroke-width="0.12">0</text>
<line x1="326.25" x2="328.95" y1="363.98" y2="363.98" stroke="#262626" stroke-width="0.6"/>
<line x1="592" x2="589.3" y1="363.98" y2="363.98" stroke="#262626" stroke-width="0.6"/>
<text transform="translate(323.75,366.13) rotate(0.03)" font-size="6.0" text-anchor="end" fill="#262626" stroke="#262626" stroke-width="0.12">0.1</text>
<line x1="326.25" x2="328.95" y1="345.77" y2="345.77" stroke="#262626" stroke-width="0.6"/>
<line x1="592" x2="589.3" y1="345.77" y2="345.77" stroke="#262626" stroke-width="0.6"/>
<text transform="translate(323.75,347.92) rotate(0.03)" font-size="6.0" text-anchor="end" fill="#262626" stroke="#262626" stroke-width="0.12">0.2</text>
<line x1="326.25" x2="328.95" y1="327.56" y2="327.56" stroke="#262626" stroke-width="0.6"/>
<line x1="592" x2="589.3" y1="327.56" y2="327.56" stroke="#262626" stroke-width="0.6"/>
<text transform="translate(323.75,329.71) rotate(0.03)" font-size="6.0" text-anchor="end" fill="#262626" stroke="#262626" stroke-width="0.12">0.3</text>
<line x1="326.25" x2="328.95" y1="309.35" y2="309.35" stroke="#262626" stroke-width="0.6"/>
<line x1="592" x2="589.3" y1="309.35" y2="309.35" stroke="#262626" stroke-width="0.6"/>
<text transform="translate(323.75,311.5) rotate(0.03)" font-size="6.0" text-anchor="end" fill="#262626" stroke="#262626" stroke-width="0.12">0.4</text>
<line x1="326.25" x2="328.95" y1="291.14" y2="291.14" stroke="#262626" stroke-width="0.6"/>
<line x1="592" x2="589.3" y1="291.14" y2="291.14" stroke="#262626" stroke-width="0.6"/>
<text transform="translate(323.75,293.29) rotate(0.03)" font-size="6.0" text-anchor="end" fill="#262626" stroke="#262626" stroke-width="0.12">0.5</text>
<line x1="326.25" x2="328.95" y1="272.93" y2="272.93" stroke="#262626" stroke-width="0.6"/>
<line x1="592" x2="589.3" y1="272.93" y2="272.93" stroke="#262626" stroke-width="0.6"/>
<text transform="translate(323.75,275.08) rotate(0.03)" font-size="6.0" text-anchor="end" fill="#262626" stroke="#262626" stroke-width="0.12">0.6</text>
<line x1="326.25" x2="328.95" y1="254.72" y2="254.72" stroke="#262626" stroke-width="0.6"/>
<line x1="592" x2="589.3" y1="254.72" y2="254.72" stroke="#262626" stroke-width="0.6"/>
<text transform="translate(323.75,256.87) rotate(0.03)" font-size="6.0" text-anchor="end" fill="#262626" stroke="#262626" stroke-width="0.12">0.7</text>
<line x1="326.25" x2="328.95" y1="236.51" y2="236.51" stroke="#262626" stroke-width="0.6"/>
<line x1="592" x2="589.3" y1="236.51" y2="236.51" stroke="#262626" stroke-width="0.6"/>
<text transform="translate(323.75,238.66) rotate(0.03)" font-size="6.0" text-anchor="end" fill="#262626" stroke="#262626" stroke-width="0.12">0.8</text>
<text transform="translate(323.75,220.45) rotate(0.03)" font-size="6.0" text-anchor="end" fill="#262626" stroke="#262626" stroke-width="0.12">0.9</text>
<text transform="translate(459.12,415.7) rotate(0.03)" font-size="7.35" text-anchor="middle" fill="#262626" stroke="#262626" stroke-width="0.12">Lead Time (in months)</text>
<text transform="translate(311.2,304.8) rotate(-89.97)" font-size="6.75" text-anchor="middle" fill="#262626" stroke="#262626" stroke-width="0.12">WPI Correlation betn obs and model</text>
<text transform="translate(299,220.6) rotate(0.03)" font-size="7.8" font-weight="bold" fill="#111" stroke="#111" stroke-width="0.2">(c)</text>
<rect x="509.3" y="224.2" width="77.3" height="43.3" fill="#fff" stroke="#262626" stroke-width="0.6"/>
<line x1="513" x2="531.1" y1="229.8" y2="229.8" stroke="#0072bd" stroke-width="1.05"/>
<text transform="translate(533.3,232.35) rotate(0.03)" font-size="7.15" fill="#111" stroke="#111" stroke-width="0.14">MIROC5 (A)</text>
<line x1="513" x2="531.1" y1="237.87" y2="237.87" stroke="#d95319" stroke-width="1.05"/>
<text transform="translate(533.3,240.42) rotate(0.03)" font-size="7.15" fill="#111" stroke="#111" stroke-width="0.14">HadCM3i2 (A)</text>
<line x1="513" x2="531.1" y1="245.94" y2="245.94" stroke="#edb120" stroke-width="1.05"/>
<text transform="translate(533.3,248.49) rotate(0.03)" font-size="7.15" fill="#111" stroke="#111" stroke-width="0.14">HadCM3i3 (F)</text>
<line x1="513" x2="531.1" y1="254.01" y2="254.01" stroke="#7e2f8e" stroke-width="1.05"/>
<text transform="translate(533.3,256.56) rotate(0.03)" font-size="7.15" fill="#111" stroke="#111" stroke-width="0.14">CanCM4i1 (F)</text>
<line x1="513" x2="531.1" y1="262.08" y2="262.08" stroke="#222" stroke-width="0.9" stroke-dasharray="0.9 1.43"/>
<text transform="translate(533.3,264.63) rotate(0.03)" font-size="7.15" fill="#111" stroke="#111" stroke-width="0.14">95%ile Corr Sig</text>
</svg>
</body></html>
